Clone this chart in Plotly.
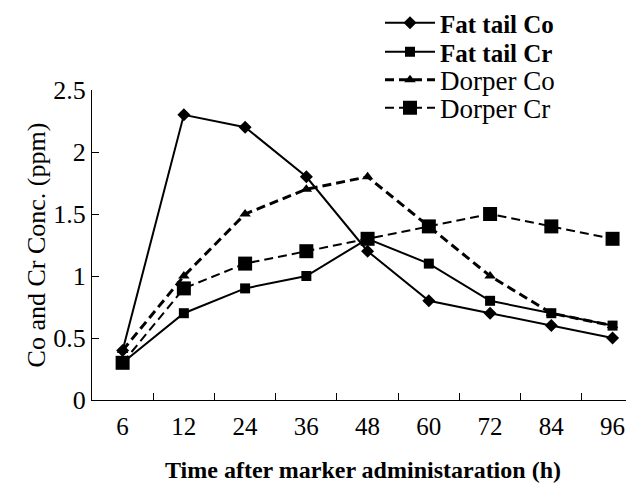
import plotly.graph_objects as go

hours = ["6", "12", "24", "36", "48", "60", "72", "84", "96"]
fat_tail_co = [0.4, 2.3, 2.2, 1.8, 1.2, 0.8, 0.7, 0.6, 0.5]
fat_tail_cr = [0.3, 0.7, 0.9, 1.0, 1.3, 1.1, 0.8, 0.7, 0.6]
dorper_co = [0.4, 1.0, 1.5, 1.7, 1.8, 1.4, 1.0, 0.7, 0.6]
dorper_cr = [0.3, 0.9, 1.1, 1.2, 1.3, 1.4, 1.5, 1.4, 1.3]
y_ticks = [0, 0.5, 1, 1.5, 2, 2.5]

FONT = "Liberation Serif, Times New Roman, serif"
W, H = 626, 475  # page body adds an 8px offset

fig = go.Figure()
fig.add_trace(go.Scatter(
    x=hours, y=dorper_co, name='<span style="font-size:27px">Dorper Co</span>',
    mode="lines+markers",
    line=dict(color="black", width=3, dash="9px,5px"),
    marker=dict(symbol="triangle-up", size=10, color="black"),
    legend="legend3"))
fig.add_trace(go.Scatter(
    x=hours, y=dorper_cr, name='<span style="font-size:27px">Dorper Cr</span>',
    mode="lines+markers",
    line=dict(color="black", width=2, dash="9px,5px"),
    marker=dict(symbol="square", size=14, color="black"),
    legend="legend4"))
fig.add_trace(go.Scatter(
    x=hours, y=fat_tail_co, name="<b>Fat tail Co</b>", mode="lines+markers",
    line=dict(color="black", width=2),
    marker=dict(symbol="diamond", size=10, color="black"),
    legend="legend"))
fig.add_trace(go.Scatter(
    x=hours, y=fat_tail_cr, name="<b>Fat tail Cr</b>", mode="lines+markers",
    line=dict(color="black", width=2),
    marker=dict(symbol="square", size=10, color="black"),
    legend="legend2"))


def leg(yc_px):
    return dict(x=372 / W, y=1 - yc_px / H, xref="container", yref="container",
                xanchor="left", yanchor="middle",
                bgcolor="rgba(0,0,0,0)", font=dict(family=FONT, size=25),
                itemwidth=50, borderwidth=0)


fig.update_layout(
    width=W, height=H,
    margin=dict(l=84, r=0, t=82, b=83, autoexpand=False),
    paper_bgcolor="white", plot_bgcolor="white",
    font=dict(family=FONT, size=25, color="black"),
    showlegend=True,
    legend=leg(15),
    legend2=leg(44),
    legend3=leg(72),
    legend4=leg(100),
    xaxis=dict(
        type="category", range=[-0.5, 8.35], automargin=False,
        tickson="boundaries", ticks="inside", ticklen=7, tickcolor="black",
        showline=True, linecolor="black", linewidth=1,
        showgrid=False, zeroline=False,
        tickfont=dict(family=FONT, size=25), ticklabelstandoff=4,
        title=dict(text="<b>Time after marker administaration (h)</b>",
                   font=dict(family=FONT, size=24), standoff=26),
    ),
    yaxis=dict(
        range=[0, 2.5], tickvals=y_ticks, ticktext=[f"{v:g}" for v in y_ticks],
        automargin=False,
        ticks="inside", ticklen=7, tickcolor="black",
        showline=True, linecolor="black", linewidth=1,
        showgrid=False, zeroline=False,
        tickfont=dict(family=FONT, size=26),
        title=dict(text="Co and Cr Conc. (ppm)",
                   font=dict(family=FONT, size=26), standoff=0),
    ),
)

fig.write_html("out.html")
